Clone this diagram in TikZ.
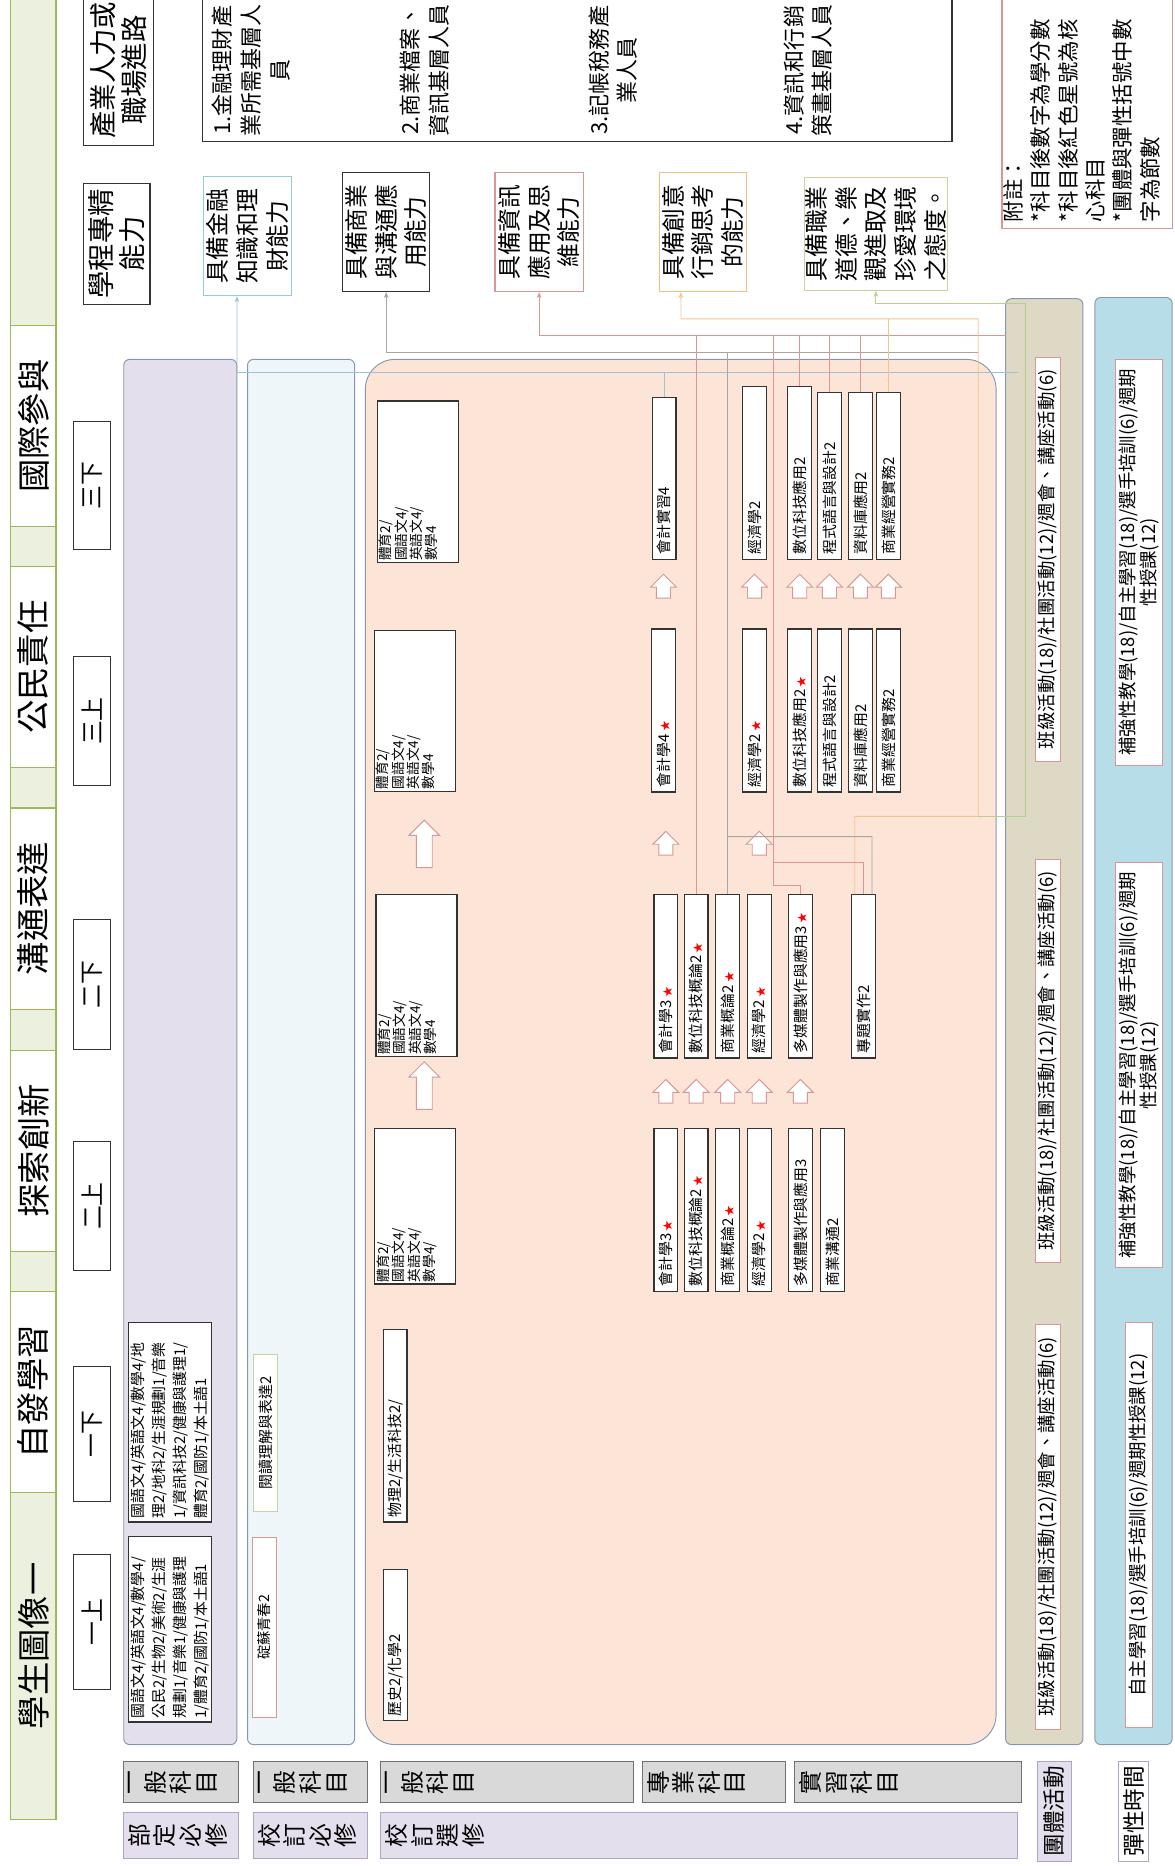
\documentclass[tikz,border=0pt]{standalone}
\usepackage{fontspec}
\setmainfont{Noto Sans CJK TC}
\usetikzlibrary{arrows.meta, shapes.arrows}

\definecolor{bandfill}{HTML}{EBF1DE}
\definecolor{banddraw}{HTML}{9BBB59}
\definecolor{zonedraw}{HTML}{8497B0}
\definecolor{reqfill}{HTML}{E4DFEC}
\definecolor{schfill}{HTML}{EEF6FA}
\definecolor{electfill}{HTML}{FCE5D7}
\definecolor{grpfill}{HTML}{DDD9C4}
\definecolor{flexfill}{HTML}{B7DEE8}
\definecolor{tagfill}{HTML}{D9D9D9}
\definecolor{tagdraw}{HTML}{707070}
\definecolor{kinddraw}{HTML}{B3A2C7}
\definecolor{pinkdraw}{HTML}{D99694}
\definecolor{cyandraw}{HTML}{92CDDC}
\definecolor{orangedraw}{HTML}{F9B97A}
\definecolor{greendraw}{HTML}{C3D69B}
\definecolor{finwire}{HTML}{9CC3D5}
\definecolor{commwire}{HTML}{A6A6A6}
\definecolor{infowire}{HTML}{D99694}
\definecolor{creawire}{HTML}{F5C38F}
\definecolor{profwire}{HTML}{B9CF8E}

\newcommand{\fsz}[2]{\fontsize{#1}{#2}\selectfont}
\newcommand{\corestar}{\,{\color{red}\fsz{9}{9}★}}

\begin{document}
\begin{tikzpicture}[x=1pt,y=-1pt,rotate=90,transform shape,every node/.style={inner sep=0pt},
ideal/.style={draw=banddraw,fill=white,line width=1pt,minimum width=169pt,minimum height=38pt,font=\fsz{28}{30}},
term/.style={draw=black!80,fill=white,line width=0.8pt,minimum width=#1,minimum height=31pt,font=\fsz{20}{22}},
zone/.style={draw=zonedraw,line width=0.8pt,rounded corners=5pt},
req/.style={draw=black!80,fill=white,line width=1pt,inner xsep=3pt,text width=#1,align=left,minimum height=70pt,font=\fsz{12.5}{17.5}},
course/.style={draw=black!80,fill=white,line width=1pt,inner xsep=4pt,text width=#1,align=left,minimum height=20pt,font=\fsz{12.5}{13}},
block/.style={draw=black!80,fill=white,line width=1pt,minimum height=68pt,label={[anchor=north west,align=left,inner sep=2pt,font=\fsz{11.5}{11.5}]north west:{#1}}},
hollow/.style={single arrow,draw=pinkdraw,fill=white,line width=0.8pt,inner xsep=0pt,inner ysep=5.5pt,minimum width=21pt,minimum height=20pt,single arrow head extend=5pt},
bighollow/.style={hollow,inner ysep=6.3pt,minimum width=25pt,minimum height=40pt,single arrow head extend=6.2pt},
act/.style={draw=pinkdraw,fill=white,line width=0.8pt,align=center,font=\fsz{15.5}{18}},
tag/.style={draw=tagdraw,fill=tagfill,line width=0.8pt,minimum width=35pt},
kind/.style={draw=kinddraw,fill=reqfill,line width=0.8pt},
vtext/.style={anchor=north,align=center,inner sep=4pt,font=\fsz{20}{21.5}},
ability/.style={draw=#1,fill=white,line width=1pt,minimum width=100pt,align=center,font=\fsz{20}{25}},
wire/.style={line width=0.7pt},
tip/.style={-{Stealth[length=5pt,width=4pt]}}]
\useasboundingbox (0,0) rectangle (1568,987);

% student image band
\node[draw=banddraw,fill=bandfill,line width=1pt,minimum width=1536pt,minimum height=38pt] (band) at (807,28){};
\node[font=\fsz{28}{30}] (ideal0) at (185,28){學生圖像一};
\node[ideal] (ideal1) at (398.5,28){自發學習};
\node[ideal] (ideal2) at (601,28){探索創新};
\node[ideal] (ideal3) at (804.5,28){溝通表達};
\node[ideal] (ideal4) at (1007.5,28){公民責任};
\node[ideal] (ideal5) at (1210,28){國際參與};

% semesters
\node[term=114pt] (y1a) at (205,77.5){一上};
\node[term=114pt] (y1b) at (363,77.5){一下};
\node[term=109pt] (y2a) at (554.5,77.5){二上};
\node[term=109pt] (y2b) at (740.5,77.5){二下};
\node[term=108pt] (y3a) at (962,77.5){三上};
\node[term=108pt] (y3b) at (1160,77.5){三下};

% zones
\node[zone,fill=reqfill,minimum width=1164pt,minimum height=95pt] (req) at (684,151.5){};
\node[zone,fill=schfill,minimum width=1164pt,minimum height=90pt] (sch) at (684,253){};
\node[zone,fill=electfill,rounded corners=25pt,minimum width=1164pt,minimum height=530pt] (elect) at (684,572){};
\node[zone,fill=grpfill,minimum width=1215pt,minimum height=65pt] (grp) at (709.5,877.5){};
\node[zone,fill=flexfill,minimum width=1216pt,minimum height=65pt] (flex) at (710,952.5){};

% required by the ministry
\node[req=150pt] (r1a) at (199,143){國語文4/英語文4/數學4/\\公民2/生物2/美術2/生涯\\規劃1/音樂1/健康與護理\\1/體育2/國防1/本土語1};
\node[req=162pt] (r1b) at (373,143){國語文4/英語文4/數學4/地\\理2/地科2/生涯規劃1/音樂\\1/資訊科技2/健康與護理1/\\體育2/國防1/本土語1};

% required by the school
\node[draw=pinkdraw,fill=white,line width=0.8pt,minimum width=151pt,minimum height=20pt,font=\fsz{12}{13}] (s1a) at (200.5,222){碇蘇青春2};
\node[draw=greendraw,fill=white,line width=0.8pt,minimum width=132pt,minimum height=20pt,font=\fsz{12.5}{13}] (s1b) at (364,223){閱讀理解與表達2};

% electives, general
\node[course=119pt] (e1a) at (185.5,332.5){歷史2/化學2};
\node[course=154pt] (e1b) at (370,332){物理2/生活科技2/};
\node[block={體育2/\\國語文4/\\英語文4/\\數學4/},minimum width=131pt] (e2a) at (554.5,349){};
\node[block={體育2/\\國語文4/\\英語文4/\\數學4},minimum width=136pt] (e2b) at (748,350){};
\node[block={體育2/\\國語文4/\\英語文4/\\數學4},minimum width=135pt] (e3a) at (970.5,348.5){};
\node[block={體育2/\\國語文4/\\英語文4/\\數學4},minimum width=136pt] (e3b) at (1163,351){};
\node[bighollow] (ga1) at (652.5,356.5){};
\node[bighollow] (ga2) at (855.5,356.5){};

% electives, 2nd year
\node[course=129pt] (acc2a) at (551.5,559.5){會計學3\corestar};
\node[course=129pt] (dig2a) at (551.5,585){數位科技概論2\corestar};
\node[course=129pt] (biz2a) at (551.5,611.5){商業概論2\corestar};
\node[course=129pt] (eco2a) at (551.5,638){經濟學2\corestar};
\node[course=129pt] (mm2a) at (551.5,672.5){多媒體製作與應用3};
\node[course=129pt] (com2a) at (551.5,699.5){商業溝通2};
\node[course=129pt] (acc2b) at (747.5,559.5){會計學3\corestar};
\node[course=129pt] (dig2b) at (747.5,585){數位科技概論2\corestar};
\node[course=129pt] (biz2b) at (747.5,611.5){商業概論2\corestar};
\node[course=129pt] (eco2b) at (747.5,638){經濟學2\corestar};
\node[course=129pt] (mm2b) at (747.5,672.5){多媒體製作與應用3\corestar};
\node[course=129pt] (prj2b) at (747.5,725.5){專題實作2};
\foreach \ly/\n in {559.5/1,585/2,611.5/3,638/4,672.5/5}
  \node[hollow] (ha\n) at (648,\ly){};
\foreach \ly/\n in {559.5/1,638/2}
  \node[hollow] (hb\n) at (856.5,\ly){};

% electives, 3rd year
\node[course=129pt] (acc3a) at (971,557.5){會計學4\corestar};
\node[course=129pt] (eco3a) at (971,634){經濟學2\corestar};
\node[course=129pt] (dig3a) at (971,672){數位科技應用2\corestar};
\node[course=129pt] (prog3a) at (971,697){程式語言與設計2};
\node[course=129pt] (db3a) at (971,723){資料庫應用2};
\node[course=129pt] (mgt3a) at (971,746.5){商業經營實務2};
\node[course=128pt] (acc3b) at (1166,558){會計實習4};
\node[course=137pt] (eco3b) at (1170.5,634){經濟學2};
\node[course=137pt] (dig3b) at (1170.5,672){數位科技應用2};
\node[course=132pt] (prog3b) at (1168,697){程式語言與設計2};
\node[course=132pt] (db3b) at (1168,723){資料庫應用2};
\node[course=132pt] (mgt3b) at (1168,746.5){商業經營實務2};
\foreach \ly/\n in {557.5/1,634/2,672/3,697/4,723/5,746.5/6}
  \node[hollow] (hc\n) at (1072.5,\ly){};

% group activities and flexible time
\node[act,minimum width=340pt,minimum height=21pt] (grp1) at (285,880.5){班級活動(18)/社團活動(12)/週會、講座活動(6)};
\node[act,minimum width=339pt,minimum height=21pt] (grp2) at (676.5,880.5){班級活動(18)/社團活動(12)/週會、講座活動(6)};
\node[act,minimum width=340pt,minimum height=21pt] (grp3) at (1098,880.5){班級活動(18)/社團活動(12)/週會、講座活動(6)};
\node[act,minimum width=341pt,minimum height=22pt] (flex1) at (286.5,957){自主學習(18)/選手培訓(6)/週期性授課(12)};
\node[act,minimum width=340pt,minimum height=40pt] (flex2) at (673,957){補強性教學(18)/自主學習(18)/選手培訓(6)/週期\\性授課(12)};
\node[act,minimum width=341pt,minimum height=40pt] (flex3) at (1095.5,957){補強性教學(18)/自主學習(18)/選手培訓(6)/週期\\性授課(12)};

% course kinds
\node[tag,minimum height=96pt,label={[vtext]north:{一\\般\\科\\目}}] (tag1) at (70.5,152){};
\node[tag,minimum height=96pt,label={[vtext]north:{一\\般\\科\\目}}] (tag2) at (70.5,261){};
\node[tag,minimum height=212pt,label={[vtext]north:{一\\般\\科\\目}}] (tag3) at (70.5,426){};
\node[tag,minimum height=120pt,label={[vtext]north:{專\\業\\科\\目}}] (tag4) at (70.5,600){};
\node[tag,minimum height=190pt,label={[vtext]north:{實\\習\\科\\目}}] (tag5) at (70.5,763){};
\node[kind,minimum width=39pt,minimum height=96pt,label={[vtext]north:{部\\定\\必\\修}}] (kind1) at (25.5,152){};
\node[kind,minimum width=39pt,minimum height=96pt,label={[vtext]north:{校\\訂\\必\\修}}] (kind2) at (25.5,261){};
\node[kind,minimum width=39pt,minimum height=535pt,label={[vtext]north:{校\\訂\\選\\修}}] (kind3) at (25.5,587.5){};
\node[kind,minimum width=84pt,minimum height=28pt,font=\fsz{19}{20}] (kind4) at (46,886){團體活動};
\node[draw=kinddraw,fill=white,line width=0.8pt,minimum width=84pt,minimum height=25pt,font=\fsz{19}{20}] (kind5) at (46,952.5){彈性時間};

% abilities and careers
\node[draw=black!80,fill=white,line width=1pt,minimum width=102pt,minimum height=56pt,align=center,font=\fsz{23}{26}] (prog) at (1363,98){學程專精\\能力};
\node[draw=black!80,fill=white,line width=1pt,minimum width=126pt,minimum height=59pt,align=center,font=\fsz{23}{26}] (path) at (1509,99.5){產業人力或\\職場進路};
\node[ability=cyandraw,minimum height=74pt] (f1) at (1369.5,208){具備金融\\知識和理\\財能力};
\node[ability=black!80,minimum height=73pt] (f2) at (1373,324.5){具備商業\\與溝通應\\用能力};
\node[ability=pinkdraw,minimum height=74pt] (f3) at (1373,453){具備資訊\\應用及思\\維能力};
\node[ability=orangedraw,minimum height=73pt] (f4) at (1373,590.5){具備創意\\行銷思考\\的能力};
\node[ability=greendraw,minimum width=95pt,minimum height=120pt] (f5) at (1371.5,736){具備職業\\道德、樂\\觀進取及\\珍愛環境\\之態度。};
\node[draw=black!80,line width=1pt,minimum width=126pt,minimum height=630pt] (jobs) at (1512,485){};
\node[align=center,font=\fsz{18.5}{24}] (job1) at (1509,211){1.金融理財產\\業所需基層人\\員};
\node[align=center,font=\fsz{18.5}{24}] (job2) at (1509,357){2.商業檔案、\\資訊基層人員};
\node[align=center,font=\fsz{18.5}{24}] (job3) at (1509,515){3.記帳稅務產\\業人員};
\node[align=center,font=\fsz{18.5}{24}] (job4) at (1509,679){4.資訊和行銷\\策畫基層人員};
\node[draw=pinkdraw,line width=1pt,minimum width=199pt,minimum height=143pt] (note) at (1475.5,913.5){};
\node[anchor=west,align=left,font=\fsz{18}{23}] (notetext) at (1381,909){附註：\\*科目後數字為學分數\\*科目後紅色星號為核\\心科目\\*團體與彈性括號中數\\字為節數};

% links to the abilities
\draw[wire,finwire,tip] (1255,855) -- (1255,199.2) -- (f1.170);
\draw[wire,commwire,tip] (1272,822) -- (1272,324.5) -- (f2.west);
\draw[wire,infowire,tip] (1286,845) -- (1286,453) -- (f3.west);
\draw[wire,creawire,tip] (prj2b.6) -- (882,718.3) -- (882,822) -- (1300,822) -- (1300,572.3) -- (f4.160);
\draw[wire,profwire,tip] (882,822) -- (882,862) -- (1313,862) -- (1313,736) -- (f5.west);
\draw[wire,finwire] (acc3b.east) -- (1255,558);
\draw[wire,commwire] (biz2b.east) -- (1272,611.5);
\draw[wire,commwire] (865,611.5) -- (865,732.7) -- (prj2b.354);
\draw[wire,infowire] (dig2b.east) -- (1286,585);
\draw[wire,infowire] (mm2b.east) -- (824,672.5) -- (824,650) -- (1286,650);
\draw[wire,infowire] (prj2b.east) -- (843,725.5) -- (843,650);
\draw[wire,infowire] (dig3b.east) -- (1286,672);
\draw[wire,infowire] (prog3b.east) -- (1286,697);
\draw[wire,infowire] (db3b.east) -- (1286,723);
\draw[wire,creawire] (mgt3b.east) -- (1300,746.5);
\end{tikzpicture}
\end{document}
